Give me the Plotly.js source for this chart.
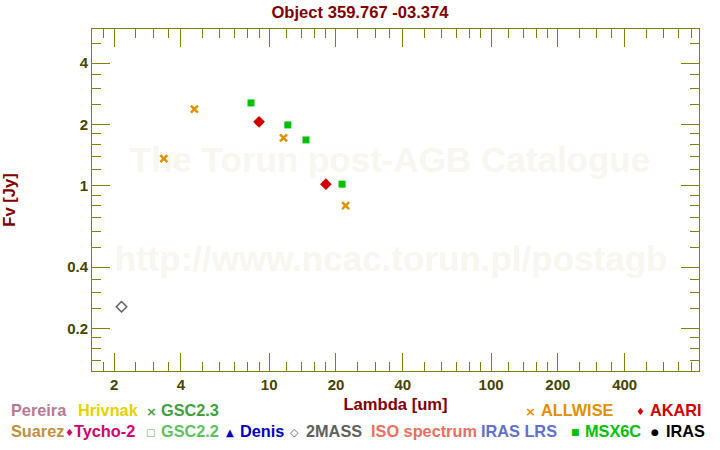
<!DOCTYPE html>
<html><head><meta charset="utf-8">
<script src="https://cdn.plot.ly/plotly-3.0.1.min.js"></script>
<style>body{margin:0;background:#fff}#chart{width:720px;height:450px}</style>
</head><body><div id="chart"></div>
<script>
// ---- data ----
const allwiseLambda = [3.35, 4.6, 11.6, 22.1];
const allwiseFlux   = [1.36, 2.38, 1.72, 0.80];
const msxLambda     = [8.28, 12.13, 14.65, 21.3];
const msxFlux       = [2.55, 1.99, 1.68, 1.02];
const akariLambda   = [9, 18];
const akariFlux     = [2.06, 1.02];
const twomassLambda = [2.16];
const twomassFlux   = [0.256];

const xMajor = [2, 4, 10, 20, 40, 100, 200, 400];
const xMinor = [1.8, 2.5, 3, 3.5, 5, 6, 7, 8, 9, 12, 14, 16, 18, 25, 30, 35, 50, 60, 70, 80, 90, 120, 140, 160, 180, 250, 300, 350, 500, 600, 700, 800];
const yMajor = [0.2, 0.4, 1, 2, 4];
const yMinor = [0.14, 0.16, 0.18, 0.25, 0.3, 0.35, 0.5, 0.6, 0.7, 0.8, 0.9, 1.2, 1.4, 1.6, 1.8, 2.5, 3, 3.5, 5];

const legendRow1Labels  = ['Pereira', 'Hrivnak', 'GSC2.3', 'ALLWISE', 'AKARI'];
const legendRow1Symbols = ['', '', '×', '×', '♦'];
const legendRow2Labels  = ['Suarez', 'Tycho-2', 'GSC2.2', 'Denis', '2MASS', 'ISO spectrum', 'IRAS LRS', 'MSX6C', 'IRAS'];
const legendRow2Symbols = ['', '♦', '□', '▲', '◇', '', '', '■', '●'];

const watermarkLines = ['The Torun post-AGB Catalogue', 'http://www.ncac.torun.pl/postagb'];

// ---- styling / layout ----
const FONT = 'Liberation Sans, Arial, Helvetica, sans-serif';
const olive = '#808000';
const tickText = '#454500';
const row1Colors = ['#b87890', '#e8d000', '#40a040', '#e09000', '#d00000'];
const row1LabelX = [11, 78, 161, 541, 650];
const row1SymX   = [0, 0, 151, 530, 640];
const row2Colors = ['#c09040', '#d00070', '#60c060', '#0000c0', '#606060', '#e87060', '#6070d0', '#00c000', '#000000'];
const row2LabelX = [11, 74, 161, 240, 306, 371, 481, 585, 666];
const row2SymX   = [0, 69.5, 150.5, 229.5, 294, 0, 0, 575.5, 654.5];
const symSize = {'×': 13, '♦': 10, '□': 10, '▲': 10, '◇': 11, '■': 9, '●': 9};

const L = 92, R = 699, T = 29, B = 371;
const px = p => (p - L) / (R - L);
const py = p => (B - p) / (B - T);
const xRange = [Math.log10(1.59), Math.log10(865)];
const yRange = [Math.log10(0.124), Math.log10(5.87)];
const dataX = p => Math.pow(10, xRange[0] + px(p) * (xRange[1] - xRange[0]));
const dataY = p => Math.pow(10, yRange[0] + py(p) * (yRange[1] - yRange[0]));

function legendAnns(label, sym, color, lx, sx, y) {
  const out = [{text: label, xref: 'paper', yref: 'paper', x: px(lx), y: py(y),
    xanchor: 'left', yanchor: 'middle', showarrow: false, borderpad: 0, borderwidth: 0,
    font: {family: FONT, size: 16.3, color: color, weight: 'bold'}}];
  if (sym) out.push({text: sym, xref: 'paper', yref: 'paper', x: px(sx), y: py(y + 1),
    xanchor: 'center', yanchor: 'middle', showarrow: false, borderpad: 0, borderwidth: 0,
    font: {family: 'DejaVu Sans, sans-serif', size: symSize[sym], color: color, weight: 'bold'}});
  return out;
}

const traces = [
  {x: [dataX(390), dataX(391)], y: [dataY(163), dataY(262)], type: 'scatter', mode: 'text',
   text: watermarkLines, textposition: 'middle center', hoverinfo: 'skip',
   textfont: {family: FONT, size: 35, color: '#f8f6f0', weight: 'bold'}},
  {x: allwiseLambda, y: allwiseFlux, type: 'scatter', mode: 'markers', name: 'ALLWISE',
   marker: {symbol: 'x-thin', size: 7, color: '#e09000', line: {width: 2.5, color: '#e09000'}}},
  {x: msxLambda, y: msxFlux, type: 'scatter', mode: 'markers', name: 'MSX6C',
   marker: {symbol: 'square', size: 7, color: '#00c000', line: {width: 0}}},
  {x: akariLambda, y: akariFlux, type: 'scatter', mode: 'markers', name: 'AKARI',
   marker: {symbol: 'diamond', size: 9, color: '#d00000', line: {width: 0}}},
  {x: twomassLambda, y: twomassFlux, type: 'scatter', mode: 'markers', name: '2MASS',
   marker: {symbol: 'diamond-open', size: 8, color: '#606060', line: {width: 1.5, color: '#606060'}}}
];

let annotations = [];
legendRow1Labels.forEach((l, i) => annotations = annotations.concat(legendAnns(l, legendRow1Symbols[i], row1Colors[i], row1LabelX[i], row1SymX[i], 410)));
legendRow2Labels.forEach((l, i) => annotations = annotations.concat(legendAnns(l, legendRow2Symbols[i], row2Colors[i], row2LabelX[i], row2SymX[i], 431)));

const axisCommon = {
  type: 'log', showline: true, linecolor: olive, linewidth: 1, mirror: 'allticks',
  ticks: 'inside', ticklen: 18, tickwidth: 1, tickcolor: olive,
  showgrid: false, zeroline: false, tickmode: 'array',
  tickfont: {family: FONT, size: 15, color: tickText, weight: 'bold'},
  minor: {ticks: 'inside', ticklen: 9, tickwidth: 1, tickcolor: olive, tickmode: 'array', showgrid: false}
};

const layout = {
  width: 720, height: 450,
  margin: {l: L, r: 720 - R, t: T, b: 450 - B},
  paper_bgcolor: '#fff', plot_bgcolor: '#fff', showlegend: false,
  title: {text: 'Object 359.767 -03.374', x: 0.5, xref: 'container', y: 1 - 12 / 450, yanchor: 'middle',
          font: {family: FONT, size: 16.6, color: '#800000', weight: 'bold'}},
  xaxis: Object.assign({}, axisCommon, {
    range: xRange,
    tickvals: xMajor, ticktext: xMajor.map(String),
    minor: Object.assign({}, axisCommon.minor, {tickvals: xMinor}),
    title: {text: 'Lambda [um]', standoff: 6, font: {family: FONT, size: 16.6, color: '#800000', weight: 'bold'}}
  }),
  yaxis: Object.assign({}, axisCommon, {
    range: yRange,
    tickvals: yMajor, ticktext: yMajor.map(String),
    minor: Object.assign({}, axisCommon.minor, {tickvals: yMinor}),
    title: {text: 'Fv [Jy]', standoff: 47, font: {family: FONT, size: 16.6, color: '#800000', weight: 'bold'}}
  }),
  annotations: annotations
};

Plotly.newPlot('chart', traces, layout, {displayModeBar: false, staticPlot: true});
</script>
</body></html>
